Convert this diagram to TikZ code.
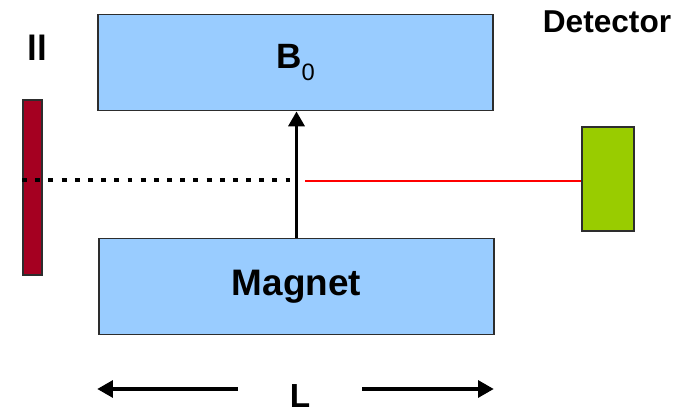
\documentclass[tikz,border=0pt]{standalone}
\usepackage{fontspec}
\setmainfont{Liberation Sans}
\usepackage{xcolor}
\usepackage{tikz}
\usetikzlibrary{arrows.meta,positioning,calc}
\definecolor{magblue}{RGB}{153,204,255}
\definecolor{wallred}{RGB}{165,0,33}
\definecolor{detgreen}{RGB}{153,204,0}
\definecolor{edgegray}{RGB}{45,45,45}
\definecolor{beamred}{RGB}{255,0,0}

\begin{document}
\begin{tikzpicture}[x=0.02cm, y=-0.02cm,
  every node/.style={font=\bfseries},
  magbox/.style={draw=edgegray, fill=magblue, line width=1pt,
    minimum width=7.9cm, minimum height=1.92cm, inner sep=0pt},
  fieldarrow/.style={line width=2.2pt, -{Triangle[width=9pt,length=8.5pt]}},
  dimarrow/.style={line width=2.4pt, -{Triangle[width=9.5pt,length=9pt]}}]
\useasboundingbox (0,0) rectangle (690,412);
\clip (0,0) rectangle (690,412);

% magnet poles
\node[magbox] (bzero) at (295.5,62.5)
  {\fontsize{20}{20}\selectfont B\raisebox{-6.8pt}{\mdseries\fontsize{13.5}{13.5}\selectfont 0}};
\node[magbox] (magnet) at (296.5,286.5) {\fontsize{21}{21}\selectfont Magnet};

% wall and detector
\node[draw=edgegray, fill=wallred, line width=1pt, minimum width=0.38cm,
  minimum height=3.5cm, inner sep=0pt] (wall) at (32.5,187.5) {};
\node[anchor=base west, inner sep=0pt] (walllabel) at (27,61)
  {\fontsize{20}{20}\selectfont ll};
\node[draw=edgegray, fill=detgreen, line width=1pt, minimum width=1.04cm,
  minimum height=2.08cm, inner sep=0pt] (detector) at (608,179) {};
\node[anchor=base, inner sep=0pt] (detlabel) at (607,33)
  {\fontsize{18}{18}\selectfont Detector};

% beam
\coordinate (dotend) at (290,180);
\coordinate (redstart) at (305,181);
\draw[line width=2.6pt, dash pattern=on 2.8pt off 4.7pt] (wall.west |- dotend) -- (dotend);
\draw[beamred, line width=1.2pt] (redstart) -- (detector.west |- redstart);

% field
\draw[fieldarrow] (magnet.north) -- (magnet.north |- bzero.south);

% length
\node[inner sep=0pt, minimum width=2.48cm, text height=0.74cm, text depth=0pt]
  (lenlabel) at (300,389) {\fontsize{19}{19}\selectfont L};
\draw[dimarrow] (lenlabel.west) -- (lenlabel.west -| bzero.west);
\draw[dimarrow] (lenlabel.east) -- (lenlabel.east -| bzero.east);
\end{tikzpicture}
\end{document}
